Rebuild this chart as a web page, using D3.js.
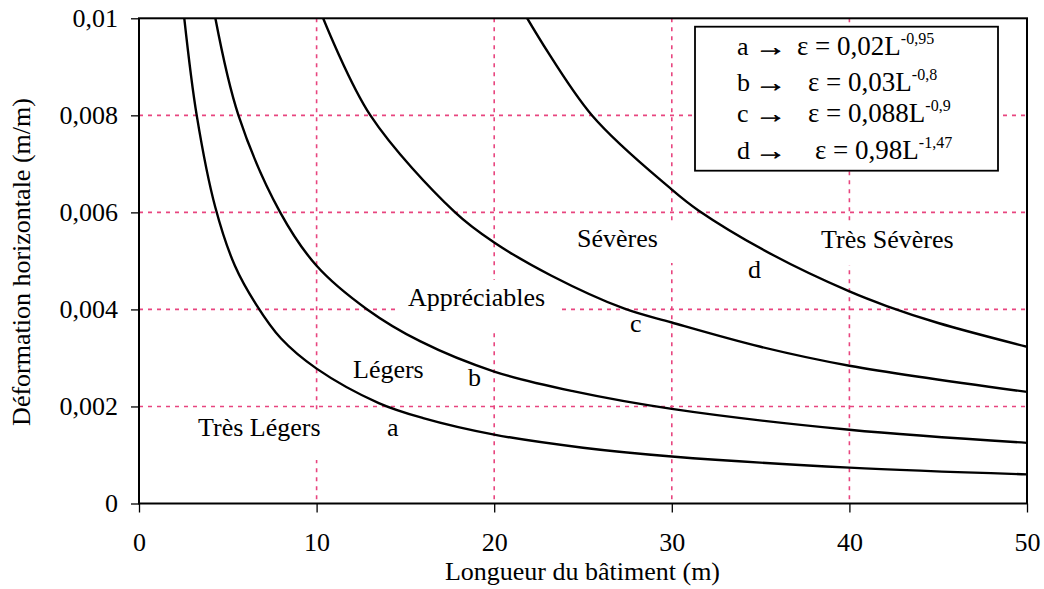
<!DOCTYPE html>
<html><head><meta charset="utf-8">
<script src="https://cdn.jsdelivr.net/npm/d3@7"></script>
<style>
body{margin:0;background:#fff}
text{font-family:"Liberation Serif","Times New Roman",Times,serif;fill:#000}
</style>
</head><body>
<svg id="chart" width="1044" height="589"></svg>
<script>
// ---- data ----
const xTicks = [0, 10, 20, 30, 40, 50];
const xTickLabels = ["0", "10", "20", "30", "40", "50"];
const yTicks = [0, 0.002, 0.004, 0.006, 0.008, 0.01];
const yTickLabels = ["0", "0,002", "0,004", "0,006", "0,008", "0,01"];
const curveNames = ["a", "b", "c", "d"];
const curveA = [[2.55,0.0100],[3.25,0.0080],[4.3,0.0061],[5.4,0.0049],[6.6,0.0041],[8,0.0034],[10,0.00278],[13.5,0.00207],[16,0.00176],[20,0.00142],[25,0.00115],[30,0.00097],[40,0.00074],[50,0.0006]];
const curveB = [[4.3,0.0100],[5.6,0.0080],[7.95,0.0060],[10,0.0049],[12.85,0.0040],[15.85,0.00334],[20,0.00272],[24.5,0.00231],[30,0.00195],[40,0.00152],[50,0.00125]];
const curveC = [[10.37,0.0100],[13.03,0.0080],[17.8,0.0060],[20,0.00538],[23.2,0.0047],[27.3,0.00402],[30,0.00373],[35,0.00323],[40,0.00284],[50,0.0023]];
const curveD = [[21.86,0.0100],[25.5,0.0080],[30,0.00647],[31.5,0.00604],[35.75,0.00511],[40,0.00437],[42.1,0.00407],[45,0.00372],[50,0.00323]];
const legendCoefs = ["0,02", "0,03", "0,088", "0,98"];
const legendExps = ["-0,95", "-0,8", "-0,9", "-1,47"];
const regionLabels = ["Très Légers", "Légers", "Appréciables", "Sévères", "Très Sévères"];

// ---- layout ----
const svg = d3.select("#chart");
const L = 139, R = 1027, T = 18.3, B = 503.5;
const x = d3.scaleLinear().domain([0, 50]).range([L, R]);
const y = d3.scaleLinear().domain([0, 0.01]).range([B, T]);
const pink = "#e8457f";

svg.append("defs").append("clipPath").attr("id", "clip")
  .append("rect").attr("x", L).attr("y", T).attr("width", R - L).attr("height", B - T);

// grid
const grid = svg.append("g");
grid.selectAll("line.v").data(xTicks.slice(1, -1)).join("line")
  .attr("x1", d => x(d)).attr("x2", d => x(d)).attr("y1", T).attr("y2", B)
  .attr("stroke", pink).attr("stroke-width", 1.6).attr("stroke-dasharray", "4,5");
grid.selectAll("line.h").data(yTicks.slice(1, -1)).join("line")
  .attr("y1", d => y(d)).attr("y2", d => y(d)).attr("x1", L).attr("x2", R)
  .attr("stroke", pink).attr("stroke-width", 1.6).attr("stroke-dasharray", "4,5");

// white label backgrounds (interrupt grid)
const boxes = [[188,410,145,50],[397,280,163,53],[565,223,120,40],[808,223,160,42]];
svg.append("g").selectAll("rect").data(boxes).join("rect")
  .attr("x", d => d[0]).attr("y", d => d[1]).attr("width", d => d[2]).attr("height", d => d[3])
  .attr("fill", "#fff");

// curves
const line = d3.line().x(d => x(d[0])).y(d => y(d[1])).curve(d3.curveCatmullRom.alpha(0.5));
svg.append("g").attr("clip-path", "url(#clip)")
  .selectAll("path").data([curveA, curveB, curveC, curveD]).join("path")
  .attr("d", line).attr("fill", "none").attr("stroke", "#000").attr("stroke-width", 2.4)
  .attr("stroke-linejoin", "round");

// frame
svg.append("rect").attr("x", L).attr("y", T).attr("width", R - L).attr("height", B - T)
  .attr("fill", "none").attr("stroke", "#000").attr("stroke-width", 2);

// axes
const yAxis = d3.axisLeft(y).tickValues(yTicks).tickFormat((d, i) => yTickLabels[i])
  .tickSizeInner(8).tickSizeOuter(0).tickPadding(13);
const gy = svg.append("g").attr("transform", `translate(${L},0)`).call(yAxis);
const xAxis = d3.axisBottom(x).tickValues(xTicks).tickFormat((d, i) => xTickLabels[i])
  .tickSizeInner(9).tickSizeOuter(0).tickPadding(20);
const gx = svg.append("g").attr("transform", `translate(0,${B})`).call(xAxis);
[gx, gy].forEach(g => {
  g.select(".domain").remove();
  g.selectAll(".tick line").attr("stroke", "#000").attr("stroke-width", 1.3);
  g.selectAll(".tick text").style("font-family", '"Liberation Serif",serif').style("font-size", "26px").attr("fill", "#000");
});

// axis titles
svg.append("text").attr("x", 582.5).attr("y", 580).attr("text-anchor", "middle")
  .style("font-size", "26px").text("Longueur du bâtiment (m)");
svg.append("text").attr("transform", "translate(30,262) rotate(-90)").attr("text-anchor", "middle")
  .style("font-size", "26px").text("Déformation horizontale (m/m)");

// region labels
const lab = svg.append("g").style("font-size", "26px");
const labPos = [[198,436],[353,378],[408,305.5],[577,246.7],[821,248.3]];
regionLabels.forEach((t, i) => lab.append("text").attr("x", labPos[i][0]).attr("y", labPos[i][1]).text(t));
const curvePos = [[387,436],[468,386],[630,331.7],[748,278.3]];
curveNames.forEach((t, i) => lab.append("text").attr("x", curvePos[i][0]).attr("y", curvePos[i][1]).text(t));

// legend
svg.append("rect").attr("x", 695).attr("y", 26.7).attr("width", 303).attr("height", 144)
  .attr("fill", "#fff").attr("stroke", "#000").attr("stroke-width", 1.8);
const rowY = [55, 90.7, 122.3, 159.3];
const fStart = [797, 808, 808, 815];
const leg = svg.append("g").style("font-size", "27px");
curveNames.forEach((n, i) => {
  leg.append("text").attr("x", 737).attr("y", rowY[i]).style("font-size", "26px").text(n);
  leg.append("text").attr("transform", `translate(755,${rowY[i]}) scale(1.3,1)`)
    .style("font-size", "24px").attr("stroke", "#000").attr("stroke-width", 0.7).text("→");
  const t = leg.append("text").attr("x", fStart[i]).attr("y", rowY[i]);
  t.append("tspan").text("ε = " + legendCoefs[i] + "L");
  t.append("tspan").attr("dy", -11).style("font-size", "16px").text(legendExps[i]);
});
</script>
</body></html>
